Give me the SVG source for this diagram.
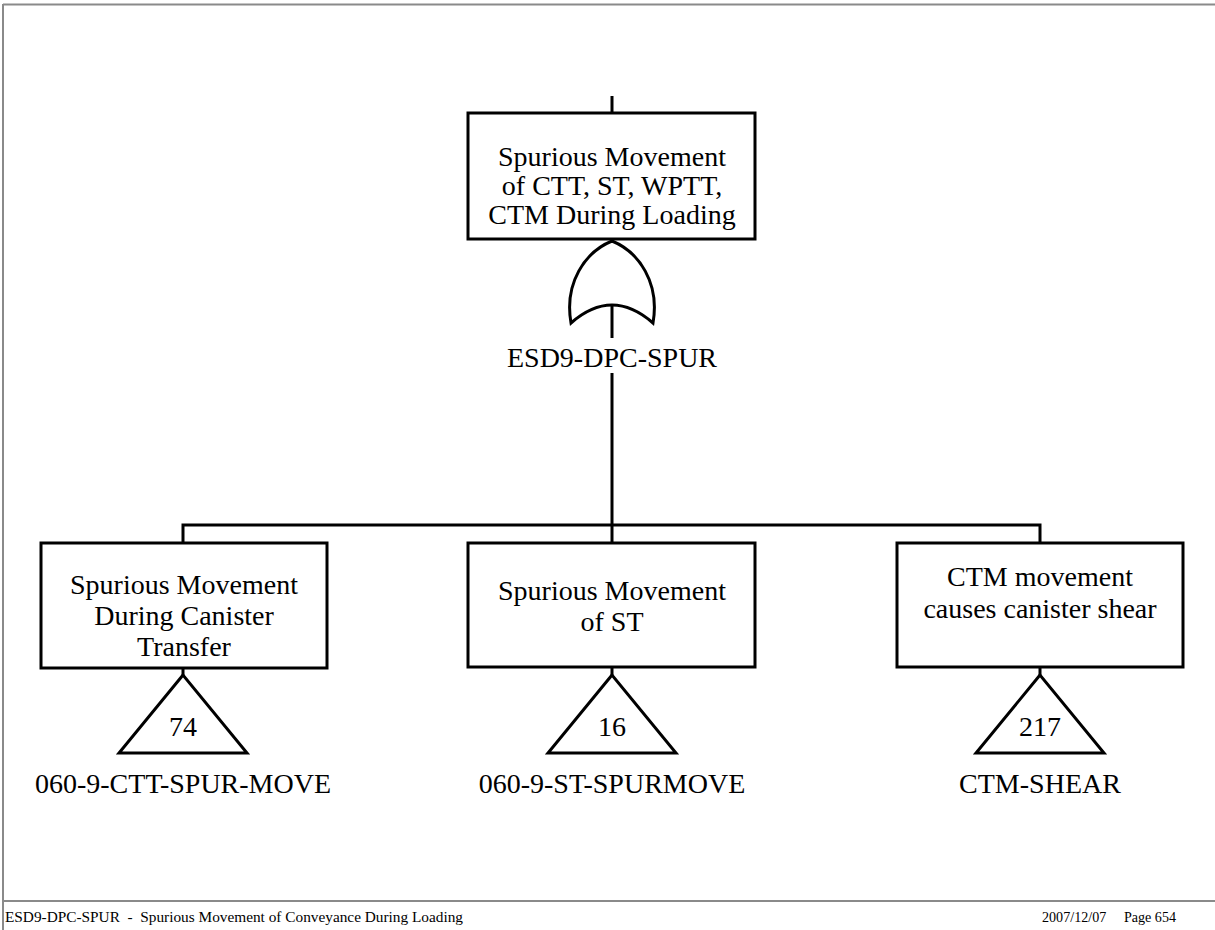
<svg xmlns="http://www.w3.org/2000/svg" width="1215" height="930" viewBox="0 0 1215 930">
<style>
.box{fill:#fff;stroke:#000;stroke-width:3}
.ln{fill:none;stroke:#000;stroke-width:3}
.t{font-family:"Liberation Serif","Times New Roman",serif;font-size:28px;fill:#000;text-anchor:middle}
.f{font-family:"Liberation Serif","Times New Roman",serif;font-size:14px;fill:#000}
.frame{stroke:#8a8a8a;stroke-width:2;fill:none}
</style>
<rect width="1215" height="930" fill="#fff"/>
<g id="frame">
<line class="frame" x1="3" y1="4.5" x2="1215" y2="4.5"/>
<line class="frame" x1="3" y1="4" x2="3" y2="930"/>
<line class="frame" x1="3" y1="901" x2="1215" y2="901"/>
</g>
<g id="connectors">
<line class="ln" x1="612" y1="96" x2="612" y2="113"/>
<line class="ln" x1="612" y1="305" x2="612" y2="338"/>
<line class="ln" x1="612" y1="373" x2="612" y2="525"/>
<polyline class="ln" points="183,543 183,525 1040,525 1040,543"/>
<line class="ln" x1="612" y1="525" x2="612" y2="543"/>
<line class="ln" x1="183" y1="668" x2="183" y2="676"/>
<line class="ln" x1="612" y1="667" x2="612" y2="676"/>
<line class="ln" x1="1040" y1="667" x2="1040" y2="676"/>
</g>
<g id="top-event">
<rect class="box" x="468" y="113" width="287" height="126"/>
<text class="t" x="612" y="166">Spurious Movement</text>
<text class="t" x="612" y="195">of CTT, ST, WPTT,</text>
<text class="t" x="612" y="224">CTM During Loading</text>
</g>
<g id="or-gate">
<path class="ln" d="M571,323 C564,283 585,252 612,241 C639,252 660,283 653,323 Q612,287 571,323 Z"/>
<text class="t" x="612" y="367">ESD9-DPC-SPUR</text>
</g>
<g id="node-ctt">
<rect class="box" x="41" y="543" width="286" height="125"/>
<text class="t" x="184" y="594">Spurious Movement</text>
<text class="t" x="184" y="625">During Canister</text>
<text class="t" x="184" y="656">Transfer</text>
</g>
<g id="transfer-74">
<polygon class="ln" points="183,675 119,753 247,753"/>
<text class="t" x="183" y="736">74</text>
<text class="t" x="183" y="793">060-9-CTT-SPUR-MOVE</text>
</g>
<g id="node-st">
<rect class="box" x="468" y="543" width="287" height="124"/>
<text class="t" x="612" y="600">Spurious Movement</text>
<text class="t" x="612" y="631">of ST</text>
</g>
<g id="transfer-16">
<polygon class="ln" points="612,675 548,753 676,753"/>
<text class="t" x="612" y="736">16</text>
<text class="t" x="612" y="793">060-9-ST-SPURMOVE</text>
</g>
<g id="node-ctm">
<rect class="box" x="897" y="543" width="286" height="124"/>
<text class="t" x="1040" y="586">CTM movement</text>
<text class="t" x="1040" y="618">causes canister shear</text>
</g>
<g id="transfer-217">
<polygon class="ln" points="1040,675 976,753 1104,753"/>
<text class="t" x="1040" y="736">217</text>
<text class="t" x="1040" y="793">CTM-SHEAR</text>
</g>
<g id="footer">
<text class="f" x="5" y="922" xml:space="preserve" textLength="458" lengthAdjust="spacingAndGlyphs">ESD9-DPC-SPUR  -  Spurious Movement of Conveyance During Loading</text>
<text class="f" x="1042" y="922" xml:space="preserve" textLength="134" lengthAdjust="spacingAndGlyphs">2007/12/07     Page 654</text>
</g>
</svg>
